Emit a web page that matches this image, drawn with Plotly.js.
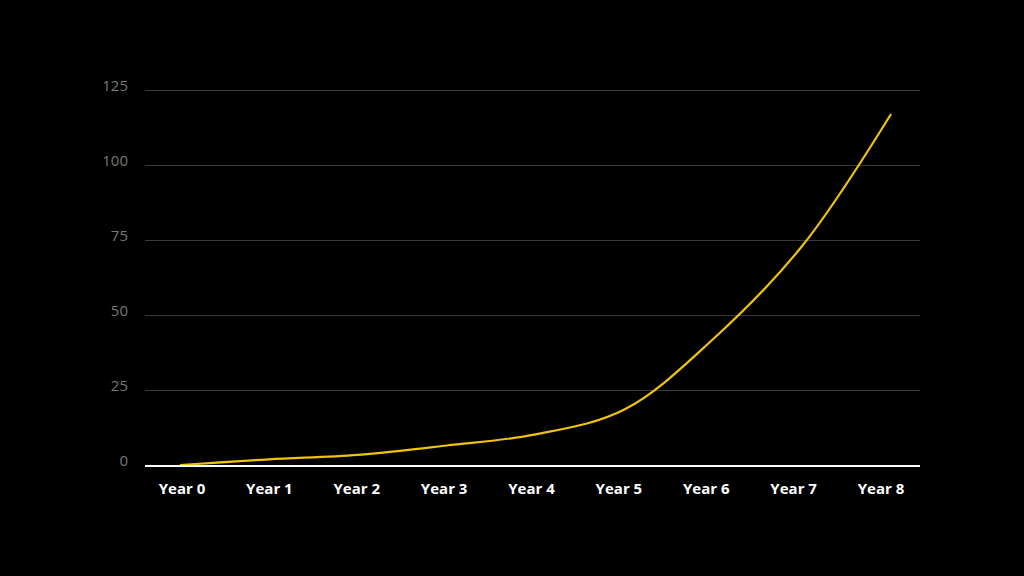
<!DOCTYPE html>
<html>
<head>
<meta charset="utf-8">
<script src="https://cdn.plot.ly/plotly-3.0.1.min.js"></script>
<style>html,body{margin:0;padding:0;background:#000;}#chart{width:1024px;height:576px;}</style>
</head>
<body>
<div id="chart"></div>
<script>
const categories = ["Year 0","Year 1","Year 2","Year 3","Year 4","Year 5","Year 6","Year 7","Year 8"];
const values = [0, 1.9, 3.4, 6.5, 10.2, 18.5, 42, 73, 117];
const yTicks = [0, 25, 50, 75, 100, 125];

const idx = categories.map((c, i) => i);

const trace = {
  x: idx, y: values,
  type: "scatter", mode: "lines",
  line: {color: "#eec30a", width: 2.2, shape: "spline", smoothing: 1},
  hoverinfo: "skip"
};
// carrier trace for the category label axis
const labelTrace = {
  x: idx, y: values, xaxis: "x2",
  type: "scatter", mode: "none", hoverinfo: "skip", showlegend: false
};

const layout = {
  width: 1024, height: 576,
  paper_bgcolor: "#000", plot_bgcolor: "#000",
  margin: {l: 145, r: 104, t: 87, b: 111},
  showlegend: false,
  xaxis: {
    range: [-0.394, 8.326],
    showticklabels: false,
    showgrid: false, zeroline: false,
    showline: true, linecolor: "#ffffff", linewidth: 1.5,
    ticks: "", fixedrange: true
  },
  xaxis2: {
    overlaying: "x", side: "bottom",
    range: [-0.4235, 8.446],
    tickvals: idx, ticktext: categories,
    showgrid: false, zeroline: false, showline: false,
    ticks: "", ticklabelstandoff: 13,
    tickfont: {family: "Open Sans, sans-serif", size: 15, color: "#ffffff", weight: 700},
    fixedrange: true
  },
  yaxis: {
    range: [0, 126],
    tickvals: yTicks, ticktext: yTicks.map(String),
    showgrid: true, gridcolor: "#3a3a3a", gridwidth: 1,
    zeroline: false, showline: false, ticks: "",
    ticklabelstandoff: 16, ticklabelshift: -4,
    tickfont: {family: "Open Sans, sans-serif", size: 15, color: "#777777"},
    fixedrange: true
  }
};

Plotly.newPlot("chart", [trace, labelTrace], layout, {displayModeBar: false, staticPlot: true});
</script>
</body>
</html>
